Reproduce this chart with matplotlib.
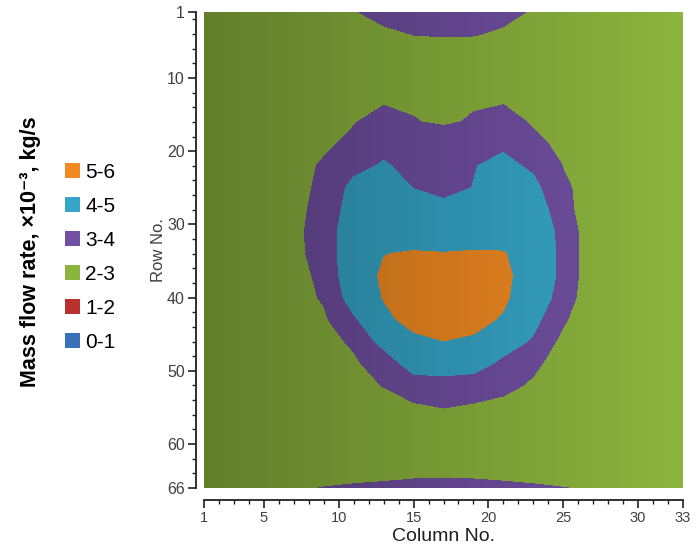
import numpy as np
import matplotlib
matplotlib.use("Agg")
import matplotlib.pyplot as plt
from matplotlib.patches import Patch
from matplotlib.ticker import FixedLocator, MultipleLocator

plt.rcParams["font.family"] = ["Liberation Sans", "DejaVu Sans"]

# sampled grid: every 2nd column, every 3rd row
columns = [1, 3, 5, 7, 9, 11, 13, 15, 17, 19, 21, 23, 25, 27, 29, 31, 33]
rows = [1, 4, 7, 10, 13, 16, 19, 22, 25, 28, 31, 34, 37, 40, 43, 46, 49, 52, 55, 58, 61, 64, 66]

# mass flow rate, x10^-3 kg/s (one list per row)
flow = [
    [2.30, 2.35, 2.40, 2.50, 2.70, 2.95, 3.25, 3.45, 3.50, 3.45, 3.20, 2.93, 2.70, 2.50, 2.40, 2.35, 2.30],
    [2.30, 2.33, 2.37, 2.45, 2.60, 2.72, 2.85, 3.02, 3.06, 3.04, 2.90, 2.75, 2.60, 2.48, 2.40, 2.35, 2.30],
    [2.30, 2.32, 2.35, 2.40, 2.45, 2.50, 2.55, 2.60, 2.60, 2.60, 2.58, 2.52, 2.47, 2.42, 2.38, 2.34, 2.30],
    [2.30, 2.32, 2.35, 2.40, 2.50, 2.60, 2.70, 2.72, 2.65, 2.72, 2.75, 2.65, 2.55, 2.45, 2.38, 2.34, 2.30],
    [2.30, 2.32, 2.36, 2.42, 2.55, 2.70, 2.90, 2.85, 2.70, 2.88, 2.90, 2.75, 2.60, 2.48, 2.40, 2.34, 2.30],
    [2.30, 2.33, 2.38, 2.50, 2.70, 2.95, 3.30, 3.05, 2.85, 3.10, 3.35, 2.90, 2.65, 2.50, 2.40, 2.35, 2.30],
    [2.30, 2.35, 2.42, 2.60, 2.85, 3.20, 3.70, 3.75, 3.75, 3.75, 3.80, 3.20, 2.80, 2.60, 2.45, 2.37, 2.32],
    [2.30, 2.37, 2.48, 2.70, 3.10, 3.70, 4.10, 3.72, 3.55, 3.95, 4.30, 3.80, 2.98, 2.70, 2.50, 2.40, 2.33],
    [2.30, 2.40, 2.50, 2.70, 3.20, 4.30, 4.35, 3.98, 3.70, 4.02, 4.40, 4.30, 3.10, 2.75, 2.55, 2.42, 2.35],
    [2.30, 2.38, 2.50, 2.75, 3.30, 4.50, 4.50, 4.40, 4.30, 4.45, 4.60, 4.70, 3.30, 2.45, 2.40, 2.36, 2.33],
    [2.30, 2.38, 2.50, 2.80, 3.37, 4.77, 4.80, 4.75, 4.70, 4.78, 4.85, 4.80, 3.66, 2.35, 2.33, 2.30, 2.28],
    [2.30, 2.38, 2.50, 2.80, 3.30, 4.86, 4.99, 5.04, 5.02, 5.04, 5.02, 4.82, 3.73, 2.32, 2.30, 2.28, 2.26],
    [2.30, 2.36, 2.45, 2.70, 3.20, 4.80, 5.05, 5.35, 5.45, 5.40, 5.15, 4.65, 3.78, 2.25, 2.28, 2.27, 2.26],
    [2.30, 2.35, 2.45, 2.65, 3.09, 4.49, 5.03, 5.30, 5.40, 5.35, 5.10, 4.60, 3.60, 2.20, 2.25, 2.25, 2.25],
    [2.30, 2.33, 2.40, 2.55, 2.85, 3.85, 4.85, 5.20, 5.30, 5.20, 4.93, 4.30, 3.15, 2.15, 2.22, 2.24, 2.24],
    [2.30, 2.33, 2.40, 2.50, 2.80, 3.09, 4.39, 4.85, 4.99, 4.90, 4.55, 3.86, 2.71, 2.40, 2.30, 2.26, 2.25],
    [2.30, 2.32, 2.38, 2.48, 2.70, 2.90, 3.30, 4.57, 4.70, 4.50, 3.73, 3.15, 2.65, 2.40, 2.30, 2.26, 2.25],
    [2.30, 2.32, 2.36, 2.45, 2.60, 2.80, 3.02, 3.40, 3.46, 3.40, 3.20, 2.89, 2.60, 2.40, 2.30, 2.26, 2.25],
    [2.30, 2.31, 2.34, 2.40, 2.50, 2.62, 2.75, 2.88, 3.01, 2.90, 2.78, 2.62, 2.50, 2.40, 2.32, 2.28, 2.26],
    [2.30, 2.30, 2.32, 2.36, 2.42, 2.50, 2.55, 2.60, 2.62, 2.60, 2.55, 2.50, 2.44, 2.38, 2.33, 2.30, 2.28],
    [2.30, 2.30, 2.32, 2.35, 2.40, 2.48, 2.58, 2.65, 2.70, 2.68, 2.60, 2.50, 2.44, 2.38, 2.33, 2.30, 2.28],
    [2.30, 2.32, 2.35, 2.40, 2.45, 2.50, 2.55, 2.72, 2.73, 2.72, 2.60, 2.50, 2.45, 2.40, 2.35, 2.32, 2.30],
    [2.30, 2.40, 2.55, 2.80, 3.04, 3.20, 3.35, 3.45, 3.50, 3.45, 3.35, 3.20, 3.03, 2.85, 2.60, 2.45, 2.35],
]

levels = [0, 1, 2, 3, 4, 5, 6]
band_labels = ["0-1", "1-2", "2-3", "3-4", "4-5", "5-6"]
band_colors = ["#3a70b8", "#b8312f", "#8cb43e", "#7150a2", "#36a6c8", "#f28a22"]

fig = plt.figure(figsize=(6.98, 5.54), dpi=100)
ax = fig.add_axes([0.2923, 0.1191, 0.6862, 0.8592])

ax.contourf(columns, rows, np.array(flow), levels=levels, colors=band_colors)

# horizontal shading: darker on the left, fading out to the right
shade = np.zeros((1, 256, 4))
shade[0, :, 3] = np.linspace(0.30, 0.0, 256)
ax.imshow(shade, extent=(1, 33, 66, 1), aspect="auto", zorder=2,
          interpolation="bilinear")

ax.set_xlim(1, 33)
ax.set_ylim(66, 1)

for side in ("top", "right"):
    ax.spines[side].set_visible(False)
ax.spines["left"].set_position(("outward", 5.8))
ax.spines["bottom"].set_position(("outward", 8.5))
for side in ("left", "bottom"):
    ax.spines[side].set_linewidth(1.3)
    ax.spines[side].set_color("#202020")

ax.xaxis.set_major_locator(FixedLocator([1, 5, 10, 15, 20, 25, 30, 33]))
ax.xaxis.set_minor_locator(MultipleLocator(1))
ax.yaxis.set_major_locator(FixedLocator([1, 10, 20, 30, 40, 50, 60, 66]))
ax.yaxis.set_minor_locator(MultipleLocator(2))
ax.tick_params(which="major", length=6, width=1.2, color="#202020",
               labelcolor="#404040")
ax.tick_params(which="minor", length=3, width=1.0, color="#202020")
ax.tick_params(axis="x", labelsize=10.5, pad=2)
ax.tick_params(axis="y", labelsize=11.5, pad=2)

ax.set_xlabel("Column No.", fontsize=14, color="#202020", labelpad=2)
ax.set_ylabel("Row No.", fontsize=12, color="#404040", labelpad=1)

handles = [Patch(facecolor=c, edgecolor="none") for c in band_colors[::-1]]
fig.legend(handles, band_labels[::-1], loc="center left",
           bbox_to_anchor=(0.066, 0.536), frameon=False, fontsize=15,
           handlelength=0.72, handleheight=0.72, handletextpad=0.25,
           labelspacing=0.72)

fig.text(0.043, 0.545, "Mass flow rate, ×10⁻³, kg/s", rotation=90,
         ha="center", va="center", fontsize=15.5, fontweight="bold")

fig.savefig("out.png", dpi=100)
